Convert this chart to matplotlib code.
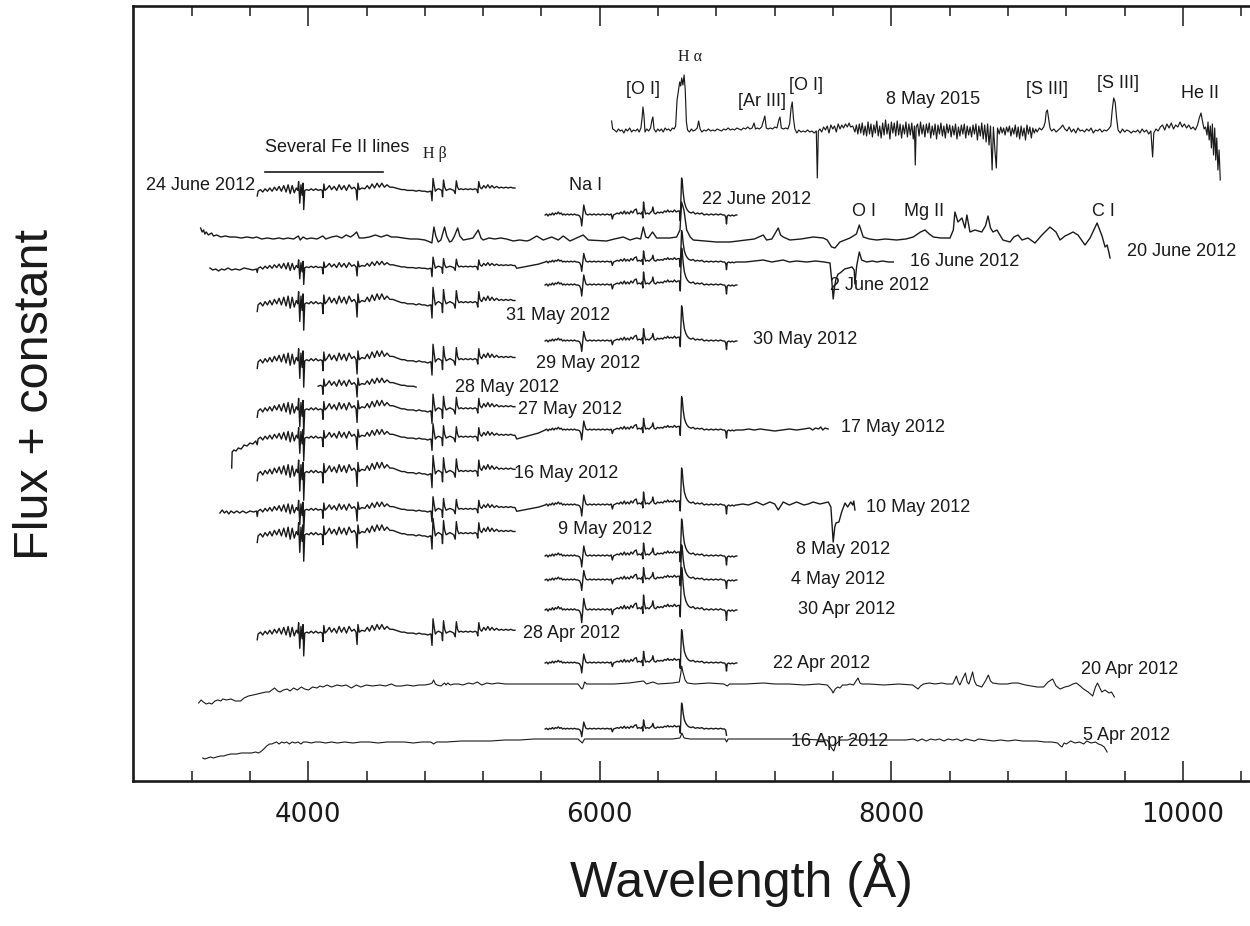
import numpy as np
import matplotlib
matplotlib.use("Agg")
import matplotlib.pyplot as plt

# ---------------------------------------------------------------- data
# Template of the blue (Fe II dominated) spectra: wavelength (A) / flux rel. to continuum
BLUE_WAVE = [3650,3656,3672,3688,3704,3720,3736,3752,3768,3784,3800,3816,3832,3848,3862,3876,3890,3904,3918,3928,
             3934,3942,3950,3958,3964,3969,3976,3990,4005,4020,4036,4052,4068,4084,4096,4101,4107,4115,4128,4145,
             4160,4178,4195,4212,4228,4246,4262,4280,4298,4315,4328,4335,4341,4350,4368,4388,4405,4420,4438,4455,
             4472,4488,4505,4522,4540,4560,4580,4600,4620,4640,4660,4680,
             4700,4720,4740,4760,4780,4800,4820,4836,4842,4849,4856,4864,4872,4882,4894,4906,4916,4921,4928,4936,
             4946,4958,4972,4986,4998,5008,5016,5024,5034,5048,5064,5080,5096,5112,5128,5144,5156,5163,5170,5178,
             5190,5204,5218,5232,5246,5260,5276,5292,5308,5324,5340,5356,5372,5388,5404,5418]
BLUE_FLUX = [-5,1,3,0,4,1,5,1,6,2,7,1,8,0,9,-2,8,-1,5,2,
             13,-14,9,-4,11,-22,2,3,2,4,2,4,2,3,2,-7,10,2,4,8,
             3,7,2,9,3,8,2,9,4,6,3,-10,11,3,5,4,8,4,10,5,
             11,6,11,6,9,6,6,5,4,3,3,2,
             2,2,1,2,1,1,0,1,1,-11,17,8,1,3,4,3,2,-6,15,6,
             2,3,4,3,2,-2,14,6,3,4,3,4,3,4,3,4,3,-1,13,6,
             4,8,5,9,5,8,5,7,5,6,5,6,5,6,5,5]

# Template of the red spectra (Na I, [O I], H-alpha, telluric B band)
RED_WAVE = [5625,5635,5645,5655,5665,5675,5685,5695,5705,5715,5725,5735,5745,5755,5765,5778,5790,5802,5814,5826,
            5838,5850,5862,5870,5876,5882,5890,5897,5905,5918,5932,5946,5960,5975,5990,6005,6020,6035,6050,6065,
            6078,6086,6094,6108,6120,6132,6144,6156,6168,6178,6190,6202,6214,6226,6238,6250,6258,6270,6282,6290,
            6295,6300,6306,6314,6326,6338,6350,6358,6364,6372,6384,6396,6408,6420,6432,6444,6456,6466,6476,6488,
            6500,6512,6524,6536,6546,6552,6556,6561,6566,6572,6580,6590,6600,6612,6626,6640,6655,6670,6685,6700,
            6716,6732,6748,6764,6780,6796,6812,6828,6844,6856,6864,6869,6874,6884,6896,6908,6920,6932,6940]
RED_FLUX = [0,1,-1,1,0,2,0,2,1,3,1,2,0,1,0,1,0,1,0,1,
            0,0,-1,-4,-11,-2,10,5,1,0,1,0,1,0,1,0,1,0,1,0,
            1,-4,0,1,2,1,3,1,4,1,3,1,4,2,5,6,1,2,1,3,
            -3,13,6,1,2,1,3,4,8,2,1,3,2,3,2,4,3,5,3,4,
            3,5,3,4,4,-6,14,37,33,22,13,8,5,3,2,3,1,2,1,2,
            0,1,0,1,0,1,0,1,0,0,-2,-9,-1,0,-1,0,-1,0,0]

# 8 May 2015 spectrum
MAY2015_WAVE = [6081,6088,6100,6115,6128,6140,6152,6165,6178,6190,6205,6218,6230,6245,6258,6270,6282,6290,6296,6303,
                6310,6322,6335,6348,6358,6364,6372,6385,6398,6410,6422,6435,6448,6460,6472,6485,6498,6510,6520,6530,
                6540,6548,6555,6562,6570,6578,6586,6594,6602,6615,6628,6640,6655,6668,6678,6688,6700,6715,6730,6745,
                6760,6775,6790,6805,6820,6835,6850,6865,6880,6895,6910,6925,6940,6955,6970,6985,7000,7015,7030,7045,
                7058,7068,7080,7095,7110,7122,7132,7142,7155,7170,7185,7200,7215,7228,7236,7245,7260,7275,7290,7302,
                7312,7320,7328,7338,7352,7365,7380,7395,7410,7425,7440,7455,7470,7485,7492,7499,7510,7522,7535,7548,
                7560,7572,7585,7598,7610,7622,7635,7648,7660,7672,7685,7698,7710,7720,7735,7750,
                7760,7770,7780,7790,7800,7810,7820,7830,7840,7850,7860,7870,7880,7890,7900,7910,7920,7930,7940,7950,
                7960,7970,7980,7990,8000,8010,8020,8030,8040,8050,8060,8070,8080,8090,8100,8110,8120,8130,8140,8150,
                8158,8164,8170,8180,8190,8200,8210,8220,8230,8240,8250,8260,8270,8280,8290,8300,8310,8320,8330,8340,
                8350,8360,8370,8380,8390,8400,8410,8420,8430,8440,8450,8460,8470,8480,8490,8500,8510,8520,8530,8540,
                8550,8560,8570,8580,8590,8600,8610,8620,8630,8640,8650,8660,8670,8680,8691,8700,8710,8720,8728,8740,
                8750,8760,8770,8780,8790,8800,8810,8820,8830,8840,8850,8860,8870,8880,8890,8900,8910,8920,8930,8940,
                8950,8960,8970,8980,8990,9000,9015,9030,9045,9055,9062,9070,9078,9088,9100,9115,9130,9145,9160,9175,
                9190,9205,9220,9235,9250,9265,9280,9295,9310,9325,9340,9355,9370,9385,9400,9415,9430,9445,9460,9475,
                9490,9505,9515,9525,9535,9545,9555,9570,9585,9600,9615,9630,9645,9660,9675,9690,9705,9720,9735,9750,
                9765,9780,9792,9800,9815,9830,9845,9860,9875,9890,9905,9920,9935,9950,9965,9980,9995,10010,10025,10040,
                10055,10070,10085,10100,10112,10124,10135,10145,10155,10165,10172,10180,10188,10195,10202,10210,10218,
                10225,10232,10240,10248,10256]
MAY2015_FLUX = [9,1,0,-2,1,-1,0,-3,1,-1,2,-2,0,-1,1,-2,2,12,23,14,
                -2,1,-1,2,10,13,1,-2,1,-1,1,-2,2,0,1,-1,2,1,4,30,
                40,48,44,52,45,55,40,8,0,-2,1,-1,0,2,9,1,-2,0,-1,1,
                -1,0,-1,1,0,-1,1,0,2,0,1,0,2,1,0,2,1,3,1,2,
                7,1,2,1,3,9,14,2,1,2,1,3,2,10,13,2,1,2,1,6,
                22,28,12,1,-3,0,-2,-1,-2,0,-2,-1,-3,-1,-48,-1,1,-2,3,0,
                4,-3,5,1,4,-2,6,1,5,2,6,3,7,3,4,-2,
                5,-4,6,-3,7,-5,4,-6,8,-4,6,-7,5,-3,9,-6,4,-8,7,-5,
                10,-4,6,-9,8,-3,7,-6,9,-5,6,-8,5,-4,8,-7,6,-5,7,-9,
                4,-35,3,6,-6,8,-4,5,-7,6,-3,7,-8,4,-5,6,-9,5,-4,7,
                -6,4,-8,6,-3,5,-7,4,-5,6,-9,3,-6,5,-4,6,-8,4,-5,3,
                -7,5,-4,6,-10,4,-6,7,-9,5,-12,6,-15,4,-40,3,-20,-38,2,-4,
                3,-3,2,-5,3,-2,4,-6,2,-4,5,-7,3,-9,4,-6,2,-10,5,-4,
                3,-8,2,-3,1,-2,2,0,3,8,18,20,12,2,-1,1,-2,0,2,5,
                1,-1,3,-2,1,-3,2,-1,0,-2,1,-1,2,-3,0,-1,1,-2,0,-1,
                1,4,20,32,28,12,0,-3,1,-2,0,-1,-3,-1,-2,0,-3,1,-2,0,
                -4,-1,-27,-3,1,-1,3,5,0,6,2,7,1,5,3,8,3,6,2,5,
                1,3,0,5,12,17,8,1,3,-5,8,-10,4,-18,6,-25,2,
                -30,-8,-40,-20,-50]

# 20 June 2012 (long, low resolution)
JUNE20_WAVE = [3262,3272,3282,3291,3300,3315,3337,3350,3372,3400,3430,3463,3500,3540,3580,3620,3646,3680,3720,3760,
               3800,3829,3860,3900,3932,3945,3965,3989,4020,4060,4100,4120,4160,4195,4230,4260,4290,4310,4332,4350,
               4377,4420,4460,4500,4540,4570,4606,4650,4700,4750,4800,4835,4848,4862,4875,4892,4910,4935,4950,4970,
               4984,5000,5025,5040,5063,5100,5130,5166,5185,5200,5240,5280,5320,5360,5406,5450,5500,5521,5567,5612,
               5670,5715,5749,5795,5886,5921,6047,6100,6161,6207,6253,6280,6298,6315,6332,6362,6390,6440,6481,6527,
               6550,6561,6577,6596,6620,6641,6720,6801,6893,6950,7007,7060,7121,7144,7180,7224,7240,7258,7304,7380,
               7464,7533,7560,7590,7613,7647,7716,7760,7780,7807,7850,7899,7960,8036,8100,8150,8200,8230,8260,8287,
               8340,8402,8425,8436,8457,8484,8505,8518,8539,8573,8620,8645,8663,8680,8697,8724,8765,8814,8840,8869,
               8896,8937,8985,9033,9088,9129,9157,9191,9220,9246,9280,9328,9363,9411,9445,9466,9480,9493,9500]
JUNE20_FLUX = [12,8,10,6,8,5,7,4,5,3,4,3,3,2,3,2,3,1,2,1,
               2,1,2,1,4,0,3,1,2,1,4,1,3,4,2,5,3,5,8,2,
               2,3,5,3,5,3,3,2,1,1,0,-2,-3,13,4,-2,0,13,4,-2,
               -1,3,12,4,0,1,2,10,2,0,2,1,2,1,-1,0,-1,0,4,0,
               3,0,4,-1,5,0,-1,1,3,0,2,1,13,3,2,8,2,2,2,3,
               10,38,30,10,3,0,-1,-2,-2,-1,0,1,5,0,1,12,5,3,0,1,
               3,2,0,-7,-8,-2,2,6,15,3,1,0,1,0,1,3,8,10,6,3,
               2,2,10,28,18,22,12,25,8,10,8,14,24,12,8,10,0,-2,3,5,
               0,2,-3,5,13,8,0,4,6,8,5,-5,2,17,4,-7,-5,-13,-18]

# blue / red ends of the long spectra
JUNE16_TAIL_B_WAVE = [3326,3345,3365,3385,3405,3425,3450,3475,3500,3530,3560,3590,3620,3645]
JUNE16_TAIL_B_FLUX = [-6,-8,-7,-9,-7,-8,-6,-8,-7,-8,-6,-7,-8,-7]
JUNE16_TAIL_R_WAVE = [7000,7060,7121,7180,7258,7300,7350,7420,7480,7540,7579,7592,7601,7610,7620,7635,7648,7680,7705,7730,
                      7745,7750,7758,7762,7772,7780,7788,7796,7830,7870,7900,7940,7980,8013]
JUNE16_TAIL_R_FLUX = [0,1,2,0,2,0,1,0,1,0,-1,-20,-37,-25,-17,-12,-11,-7,-6,-5,
                      -8,-22,-10,-4,4,10,6,2,0,1,0,1,0,0]
MAY17_TAIL_B_WAVE = [3475,3478,3490,3505,3520,3540,3560,3580,3600,3620,3640]
MAY17_TAIL_B_FLUX = [-38,-22,-20,-21,-18,-19,-15,-16,-13,-14,-11]
MAY17_TAIL_R_WAVE = [6980,7020,7060,7100,7150,7200,7250,7300,7350,7400,7440,7460,7480,7500,7515,7530,7545,7566]
MAY17_TAIL_R_FLUX = [0,1,0,1,0,-1,0,1,0,1,2,0,2,1,3,0,2,1]
MAY10_TAIL_B_WAVE = [3394,3410,3425,3440,3455,3470,3490,3510,3530,3550,3575,3600,3625,3645]
MAY10_TAIL_B_FLUX = [-8,-5,-8,-6,-9,-6,-8,-6,-8,-6,-8,-6,-7,-6]
MAY10_TAIL_R_WAVE = [6980,7020,7076,7120,7167,7200,7224,7258,7300,7350,7400,7430,7464,7510,7540,7567,7585,7601,7612,7620,
                     7640,7659,7682,7700,7721,7735,7742,7750]
MAY10_TAIL_R_FLUX = [1,0,3,0,3,1,-5,3,0,3,0,1,3,1,2,3,-2,-37,-22,-18,
                     -17,-7,2,-2,3,0,4,-5]
BRIDGE_WAVE = [5430,5480,5530,5580,5610]
BRIDGE_FRAC = [0.9,0.7,0.5,0.3,0.1]

# 20 Apr 2012 and 5 Apr 2012 (long spectra)
APR20_WAVE = [3248,3265,3280,3300,3320,3339,3360,3380,3400,3414,3440,3470,3500,3536,3560,3590,3622,3650,3680,3710,
              3732,3750,3769,3790,3806,3830,3855,3875,3900,3925,3953,3975,4002,4030,4060,4080,4100,4130,4160,4198,
              4230,4260,4296,4330,4360,4400,4440,4492,4530,4570,4600,4639,4680,4720,4760,4800,4835,4850,4860,4872,
              4884,4910,4935,4945,4957,4975,5000,5031,5060,5100,5130,5160,5190,5226,5260,5300,5350,5400,5472,5550,
              5650,5750,5850,5876,5884,5896,5910,6000,6100,6200,6300,6320,6364,6400,6500,6545,6555,6562,6570,6585,
              6600,6650,6750,6850,6875,6890,7000,7123,7200,7300,7400,7500,7560,7590,7600,7615,7632,7647,7665,7695,
              7715,7740,7771,7785,7797,7850,7950,8050,8146,8165,8183,8200,8221,8260,8300,8346,8380,8421,8434,8446,
              8458,8470,8488,8508,8520,8532,8545,8557,8570,8583,8600,8620,8645,8665,8680,8695,8740,8795,8830,8868,
              8920,8960,9000,9044,9075,9106,9130,9157,9190,9219,9245,9269,9295,9318,9350,9381,9400,9414,9430,9443,
              9465,9493,9510,9530]
APR20_FLUX = [-19,-16,-18,-20,-19,-20,-17,-16,-17,-15,-16,-15,-17,-17,-14,-12,-11,-10,-9,-8,
              -8,-6,-4,-7,-8,-6,-5,-7,-4,-6,-3,-5,-6,-3,-4,-2,-3,-1,-3,-1,
              -2,-1,-4,-1,-3,-1,-2,-1,-2,0,-2,-2,-1,-2,-1,-1,0,1,4,0,
              -1,-2,1,-1,1,-1,0,0,-1,1,0,2,-1,1,0,1,0,0,0,0,
              0,0,0,-5,-4,2,0,0,0,1,3,0,2,0,1,2,10,18,12,4,
              1,0,1,0,-2,0,0,1,0,0,-1,0,-1,-6,-9,-5,-3,-4,-1,-1,
              0,-1,6,1,0,0,-1,0,-1,-3,-5,-2,0,1,0,1,0,0,4,8,
              2,-1,5,11,2,0,6,12,3,-1,-2,-3,3,9,3,1,0,0,1,1,
              -1,-2,-3,-3,2,5,-2,-5,-3,-2,0,1,-2,-5,-8,-12,-3,1,-4,-8,
              -6,-9,-8,-13]
APR5_WAVE = [3276,3290,3310,3330,3350,3372,3400,3420,3440,3470,3509,3540,3577,3610,3640,3657,3670,3680,3695,3715,
             3735,3750,3765,3783,3800,3818,3835,3852,3870,3890,3910,3930,3950,3966,3990,4020,4050,4080,4120,4160,
             4200,4250,4307,4360,4420,4480,4540,4600,4660,4720,4780,4840,4860,4880,4950,5050,5150,5250,5350,5450,
             5550,5650,5750,5850,5880,5895,6000,6100,6200,6300,6400,6500,6550,6563,6578,6620,6700,6800,6860,6870,
             6880,7000,7100,7200,7300,7400,7500,7560,7590,7605,7620,7650,7700,7740,7760,7800,7900,8000,8100,8150,
             8180,8210,8240,8270,8300,8330,8360,8390,8420,8450,8480,8510,8540,8570,8600,8650,8700,8750,8800,8850,
             8900,8950,9000,9050,9100,9140,9160,9170,9185,9200,9230,9260,9290,9320,9340,9370,9400,9420,9440,9460,
             9480]
APR5_FLUX = [-18,-19,-18,-17,-18,-17,-16,-16,-15,-14,-14,-13,-13,-13,-12,-13,-12,-11,-9,-6,
             -4,-4,-3,-2,-4,-2,-3,-2,-4,-2,-3,-2,-4,-2,-2,-3,-2,-2,-3,-2,
             -3,-2,-3,-2,-2,-3,-2,-2,-2,-3,-2,-2,-4,-2,-2,-1,-1,-1,0,0,
             1,1,1,1,-3,1,1,1,1,1,1,1,2,7,2,1,1,1,1,-2,
             1,1,1,1,1,1,0,0,-8,-11,-4,0,0,2,0,0,0,0,0,1,
             -1,1,-1,1,0,1,-1,1,0,1,-1,1,0,-1,1,0,-1,0,-1,0,
             -1,-1,-1,-2,-2,-3,-6,-7,-3,-4,-1,-3,-2,-4,-1,-3,-2,-4,-5,-7,
             -12]

# flux constants (vertical offsets) and template scales
SHORT_NAMES = ["24 June", "22 June", "2 June", "31 May", "30 May", "29 May", "28 May", "27 May",
               "16 May", "9 May", "8 May", "4 May", "30 Apr", "28 Apr", "22 Apr", "16 Apr"]
SHORT_TEMPLATE = ["blue", "red", "red", "blue", "red", "blue", "blue", "blue",
                  "blue", "blue", "red", "red", "red", "blue", "red", "red"]
SHORT_OFFSET = [589, 566, 496, 475, 440, 418, 393, 369, 306, 244, 225, 201, 171, 146, 118, 52]
SHORT_SCALE = [0.8, 1.0, 1.0, 1.1, 0.95, 1.1, 0.9, 1.05, 1.15, 1.1, 1.0, 0.95, 1.15, 0.95, 0.9, 0.7]
SHORT_LO = [3650, 5625, 5625, 3650, 5625, 3650, 4068, 3650, 3650, 3650, 5625, 5625, 5625, 3650, 5625, 5625]
SHORT_HI = [5418, 6940, 6940, 5418, 6940, 5418, 4745, 5418, 5418, 5418, 6940, 6940, 6940, 5418, 6940, 6872]

OFFSET_MAY2015 = 651
OFFSET_JUNE20 = 541
OFFSET_JUNE16 = 519
OFFSET_MAY17 = 351
OFFSET_MAY10 = 276
OFFSET_APR20 = 97
OFFSET_APR5 = 41

# spectrum labels (text, wavelength, flux, alignment)
DATE_TEXT = ["8 May 2015", "24 June 2012", "22 June 2012", "20 June 2012", "16 June 2012", "2 June 2012",
             "31 May 2012", "30 May 2012", "29 May 2012", "28 May 2012", "27 May 2012", "17 May 2012",
             "16 May 2012", "10 May 2012", "9 May 2012", "8 May 2012", "4 May 2012", "30 Apr 2012",
             "28 Apr 2012", "22 Apr 2012", "20 Apr 2012", "16 Apr 2012", "5 Apr 2012"]
DATE_WAVE = [8285, 3634, 7078, 9994, 8505, 7921, 5713, 7406, 5918, 5363, 5795, 8010,
             5768, 8182, 6035, 7668, 7634, 7696, 5809, 7523, 9637, 7646, 9610]
DATE_FLUX = [682, 596, 582, 529, 519, 495, 466, 441, 417, 393, 371, 353,
             307, 273, 251, 231, 201, 171, 148, 117, 111, 39, 46]
DATE_HA = ["center", "right", "center", "center", "center", "center", "center", "center", "center", "center",
           "center", "center", "center", "center", "center", "center", "center", "center", "center", "center",
           "center", "center", "center"]

LINE_TEXT = ["[O I]", "[Ar III]", "[O I]", "[S III]", "[S III]", "He II", "Na I", "O I", "Mg II", "C I",
             "Several Fe II lines"]
LINE_WAVE = [6296, 7112, 7414, 9068, 9555, 10117, 5905, 7813, 8225, 9452, 4199]
LINE_FLUX = [692, 680, 696, 692, 697, 688, 595, 569, 569, 569, 633]
GREEK_TEXT = ["H α", "H β"]
GREEK_WAVE = [6620, 4865]
GREEK_FLUX = [724, 627]
FE_BAR_WAVE = [3703, 4512]
FE_BAR_FLUX = [609, 609]

# ---------------------------------------------------------------- helpers
def seg(wave, flux, lo, hi, scale=1.0, shift=0.0):
    w = np.asarray(wave, float)
    f = np.asarray(flux, float)
    m = (w >= lo) & (w <= hi)
    return w[m], f[m] * scale + shift


def join(*parts):
    return np.concatenate([p[0] for p in parts]), np.concatenate([p[1] for p in parts])


def bridge(shift):
    return np.asarray(BRIDGE_WAVE, float), np.asarray(BRIDGE_FRAC, float) * shift


TEMPL = {"blue": (BLUE_WAVE, BLUE_FLUX), "red": (RED_WAVE, RED_FLUX)}

# ---------------------------------------------------------------- figure
fig = plt.figure(figsize=(12.5, 9.26), dpi=100)
ax = fig.add_axes([133.3 / 1250, 1 - 781 / 926, (1250 - 133.3) / 1250, 775 / 926])

LW = 1.0
col = "#1a1a1a"

# short spectra
for name, tp, off, sc, lo, hi in zip(SHORT_NAMES, SHORT_TEMPLATE, SHORT_OFFSET, SHORT_SCALE, SHORT_LO, SHORT_HI):
    w, f = seg(*TEMPL[tp], lo, hi, sc)
    ax.plot(w, f + off, color=col, lw=LW)

# long spectra
w, f = seg(MAY2015_WAVE, MAY2015_FLUX, 0, 1e5)
ax.plot(w, f + OFFSET_MAY2015, color=col, lw=0.85)

w, f = seg(JUNE20_WAVE, JUNE20_FLUX, 0, 1e5)
ax.plot(w, f + OFFSET_JUNE20, color=col, lw=LW)

w, f = join(seg(JUNE16_TAIL_B_WAVE, JUNE16_TAIL_B_FLUX, 0, 1e5),
            seg(BLUE_WAVE, BLUE_FLUX, 3650, 5418, 0.7, -7),
            bridge(-7),
            seg(RED_WAVE, RED_FLUX, 5625, 6940, 0.85),
            seg(JUNE16_TAIL_R_WAVE, JUNE16_TAIL_R_FLUX, 0, 1e5))
ax.plot(w, f + OFFSET_JUNE16, color=col, lw=LW)

w, f = join(seg(MAY17_TAIL_B_WAVE, MAY17_TAIL_B_FLUX, 0, 1e5),
            seg(BLUE_WAVE, BLUE_FLUX, 3650, 5418, 0.95, -10),
            bridge(-10),
            seg(RED_WAVE, RED_FLUX, 5625, 6940, 0.9),
            seg(MAY17_TAIL_R_WAVE, MAY17_TAIL_R_FLUX, 0, 1e5))
ax.plot(w, f + OFFSET_MAY17, color=col, lw=LW)

w, f = join(seg(MAY10_TAIL_B_WAVE, MAY10_TAIL_B_FLUX, 0, 1e5),
            seg(BLUE_WAVE, BLUE_FLUX, 3650, 5418, 0.9, -7),
            bridge(-7),
            seg(RED_WAVE, RED_FLUX, 5625, 6940, 1.0),
            seg(MAY10_TAIL_R_WAVE, MAY10_TAIL_R_FLUX, 0, 1e5))
ax.plot(w, f + OFFSET_MAY10, color=col, lw=LW)

w, f = seg(APR20_WAVE, APR20_FLUX, 0, 1e5)
ax.plot(w, f + OFFSET_APR20, color=col, lw=0.8)
w, f = seg(APR5_WAVE, APR5_FLUX, 0, 1e5)
ax.plot(w, f + OFFSET_APR5, color=col, lw=0.8)

# labels
sans = "Liberation Sans"
for t, x, y, ha in zip(DATE_TEXT, DATE_WAVE, DATE_FLUX, DATE_HA):
    ax.text(x, y, t, ha=ha, va="center", fontsize=13, family=sans, color=col)
for t, x, y in zip(LINE_TEXT, LINE_WAVE, LINE_FLUX):
    ax.text(x, y, t, ha="center", va="center", fontsize=13, family=sans, color=col)
for t, x, y in zip(GREEK_TEXT, GREEK_WAVE, GREEK_FLUX):
    ax.text(x, y, t, ha="center", va="center", fontsize=11.5, family="Liberation Serif", color=col)
ax.plot(FE_BAR_WAVE, FE_BAR_FLUX, color=col, lw=1.2)

# axes styling
ax.set_xlim(2800, 10460)
ax.set_ylim(0, 775)
ax.set_xticks([4000, 6000, 8000, 10000])
ax.set_xticks(np.arange(3200, 10460, 400), minor=True)
ax.set_yticks([])
ax.tick_params(axis="x", which="major", direction="in", length=14.4, width=1.1, top=True,
               labelsize=18.7, pad=15, colors=col)
ax.tick_params(axis="x", which="minor", direction="in", length=7.5, width=1.1, top=True, colors=col)
for lab in ax.get_xticklabels():
    lab.set_family("DejaVu Sans")
ax.spines["right"].set_visible(False)
for s in ("left", "top", "bottom"):
    ax.spines[s].set_linewidth(1.9)
    ax.spines[s].set_color(col)

fig.text(36 / 1250, 1 - 394 / 926, "Flux + constant", rotation=90, ha="center", va="center",
         fontsize=35, family=sans, color=col)
fig.text(741 / 1250, 1 - 880 / 926, "Wavelength (Å)", ha="center", va="center",
         fontsize=36, family=sans, color=col)

fig.savefig("out.png", dpi=100)
